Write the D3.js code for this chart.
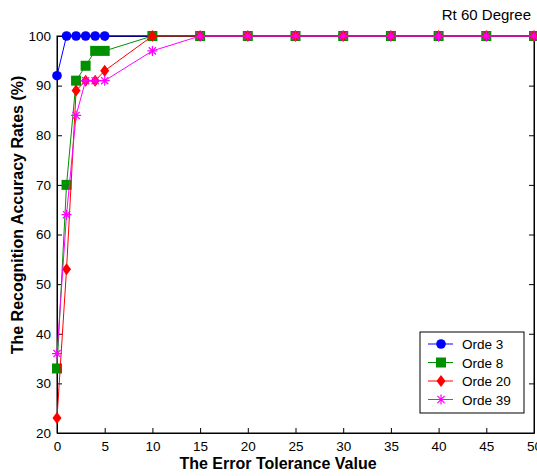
<!DOCTYPE html>
<html><head><meta charset="utf-8">
<script src="https://cdn.jsdelivr.net/npm/d3@7"></script>
<style>body{margin:0;background:#fff}svg{display:block;font-family:"Liberation Sans",Arial,sans-serif}</style>
</head><body>
<script>
const xValues = [0,1,2,3,4,5,10,15,20,25,30,35,40,45,50];
const orde3  = [92,100,100,100,100,100,100,100,100,100,100,100,100,100,100];
const orde8  = [33,70,91,94,97,97,100,100,100,100,100,100,100,100,100];
const orde20 = [23,53,89,91,91,93,100,100,100,100,100,100,100,100,100];
const orde39 = [36,64,84,91,91,91,97,100,100,100,100,100,100,100,100];
const seriesNames = ["Orde 3","Orde 8","Orde 20","Orde 39"];
const xTicks = [0,5,10,15,20,25,30,35,40,45,50];
const yTicks = [20,30,40,50,60,70,80,90,100];

const W=537,H=476, L=57, R=534, T=36, B=433;
const svg=d3.select("body").append("svg").attr("width",W).attr("height",H);
const x=d3.scaleLinear().domain([0,50]).range([L,R]);
const y=d3.scaleLinear().domain([20,100]).range([B,T]);

svg.append("rect").attr("x",L).attr("y",T).attr("width",R-L).attr("height",B-T)
  .attr("fill","none").attr("stroke","#000").attr("stroke-width",1);

const ax=svg.append("g").attr("transform",`translate(0,${B})`)
  .call(d3.axisBottom(x).tickValues(xTicks).tickSizeInner(-5).tickSizeOuter(0).tickPadding(8));
const ay=svg.append("g").attr("transform",`translate(${L},0)`)
  .call(d3.axisLeft(y).tickValues(yTicks).tickSizeInner(-5).tickSizeOuter(0).tickPadding(6));
const ar=svg.append("g").attr("transform",`translate(${R},0)`)
  .call(d3.axisRight(y).tickValues(yTicks).tickSizeInner(-5).tickSizeOuter(0).tickFormat(""));
const at=svg.append("g").attr("transform",`translate(0,${T})`)
  .call(d3.axisTop(x).tickValues(xTicks).tickSizeInner(-5).tickSizeOuter(0).tickFormat(""));
[ax,ay,ar,at].forEach(g=>{g.select(".domain").attr("stroke","#000");g.selectAll("line").attr("stroke","#000");
  g.selectAll("text").attr("fill","#000").style("font-size","13.5px").style("font-family","Liberation Sans, Arial, sans-serif");});

const colors=["#0000ff","#009000","#ff0000","#ff00ff"];
const data=[orde3,orde8,orde20,orde39];
const line=d3.line().x((d,i)=>x(xValues[i])).y(d=>y(d));

function marker(g,k,cx,cy){
  const c=colors[k];
  if(k===0) g.append("circle").attr("cx",cx).attr("cy",cy).attr("r",4.8).attr("fill",c);
  else if(k===1) g.append("rect").attr("x",cx-5).attr("y",cy-5).attr("width",10).attr("height",10).attr("fill",c);
  else if(k===2) g.append("path").attr("d",`M${cx},${cy-6}L${cx+4.5},${cy}L${cx},${cy+6}L${cx-4.5},${cy}Z`).attr("fill",c);
  else {
    const s=5;
    g.append("path").attr("d",`M${cx-s},${cy}H${cx+s}M${cx},${cy-s}V${cy+s}M${cx-3.6},${cy-3.6}L${cx+3.6},${cy+3.6}M${cx-3.6},${cy+3.6}L${cx+3.6},${cy-3.6}`)
      .attr("stroke",c).attr("stroke-width",1.2).attr("fill","none");
  }
}

data.forEach((vals,k)=>{
  const g=svg.append("g");
  g.append("path").datum(vals).attr("d",line).attr("fill","none").attr("stroke",colors[k]).attr("stroke-width",1);
  vals.forEach((v,i)=>marker(g,k,x(xValues[i]),y(v)));
});

svg.append("text").attr("x",531).attr("y",20).attr("text-anchor","end").style("font-size","15px").text("Rt 60 Degree");

svg.append("text").attr("x",278).attr("y",469).attr("text-anchor","middle")
  .style("font-size","16px").style("font-weight","bold").text("The Error Tolerance Value");
svg.append("text").attr("transform",`translate(23,215) rotate(-90)`).attr("text-anchor","middle")
  .style("font-size","16px").style("font-weight","bold").text("The Recognition Accuracy Rates (%)");

const lg=svg.append("g");
lg.append("rect").attr("x",420).attr("y",332).attr("width",104).attr("height",81).attr("fill","#fff").attr("stroke","#000");
seriesNames.forEach((n,k)=>{
  const ly=344+k*18.5;
  lg.append("line").attr("x1",428).attr("x2",453).attr("y1",ly).attr("y2",ly).attr("stroke",colors[k]);
  marker(lg,k,441,ly);
  lg.append("text").attr("x",462).attr("y",ly+5).style("font-size","13.5px").text(n);
});
</script>
</body></html>
